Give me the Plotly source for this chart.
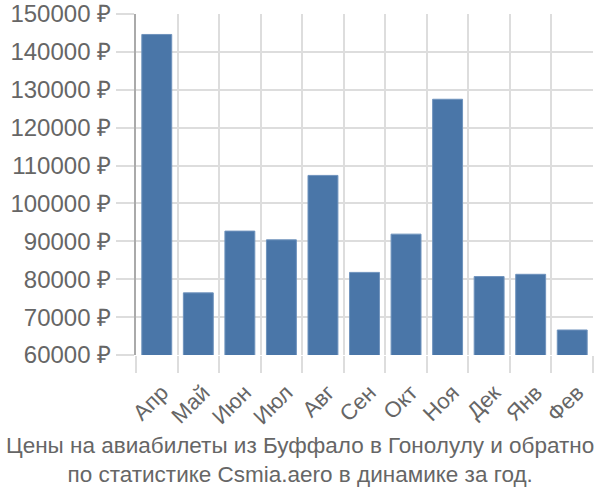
import plotly.graph_objects as go

months = ['Апр', 'Май', 'Июн', 'Июл', 'Авг', 'Сен', 'Окт', 'Ноя', 'Дек', 'Янв', 'Фев']
prices = [144600, 76400, 92700, 90400, 107400, 81800, 91900, 127500, 80700, 81300, 66600]
y_ticks = [60000, 70000, 80000, 90000, 100000, 110000, 120000, 130000, 140000, 150000]

x_pos = list(range(len(months)))
boundaries = [i - 0.5 for i in range(len(months) + 1)]

fig = go.Figure()
fig.add_trace(go.Bar(
    x=x_pos,
    y=prices,
    marker=dict(color='#4a76a8', line=dict(color='#6f93bd', width=1)),
    width=0.72,
))

grid = '#dddddd'
font_color = '#666666'

fig.update_layout(
    width=600, height=500,
    margin=dict(l=136, r=7, t=14, b=145),
    plot_bgcolor='white', paper_bgcolor='white',
    font=dict(family='Liberation Sans, Arial, sans-serif', color=font_color),
    showlegend=False,
    xaxis=dict(
        range=[-0.5, len(months) - 0.5],
        tickmode='array', tickvals=x_pos, ticktext=months,
        tickangle=-45, tickfont=dict(size=22, color=font_color),
        ticklabelshift=5,
        showgrid=False, automargin=False,
        ticks='outside', ticklen=15, tickcolor='rgba(0,0,0,0)',
        minor=dict(tickmode='array', tickvals=boundaries, showgrid=True,
                   gridcolor=grid, gridwidth=2, ticks='outside', ticklen=17,
                   tickcolor=grid, tickwidth=2),
        zeroline=False,
    ),
    yaxis=dict(
        range=[60000, 150000],
        tickmode='array', tickvals=y_ticks,
        ticktext=[f'{v} ₽' for v in y_ticks],
        tickfont=dict(size=24, color=font_color),
        showgrid=True, gridcolor=grid, gridwidth=2, automargin=False,
        ticks='outside', ticklen=18, tickcolor=grid, tickwidth=2,
        showline=True, linecolor='#aaaaaa', linewidth=2,
        zeroline=False, ticklabeloverflow='allow',
    ),
    annotations=[dict(
        text='Цены на авиабилеты из Буффало в Гонолулу и обратно<br>по статистике Csmia.aero в динамике за год.',
        x=0.5, y=0, xref='paper', yref='paper', xanchor='center', yanchor='middle',
        xshift=-64.5, yshift=-105,
        showarrow=False, font=dict(size=22.5, color=font_color),
    )],
)

# drop the default page margin so the chart sits at the window's corner
fig.write_html('out.html', config={'displayModeBar': False},
               post_script="document.body.style.margin='0';")
